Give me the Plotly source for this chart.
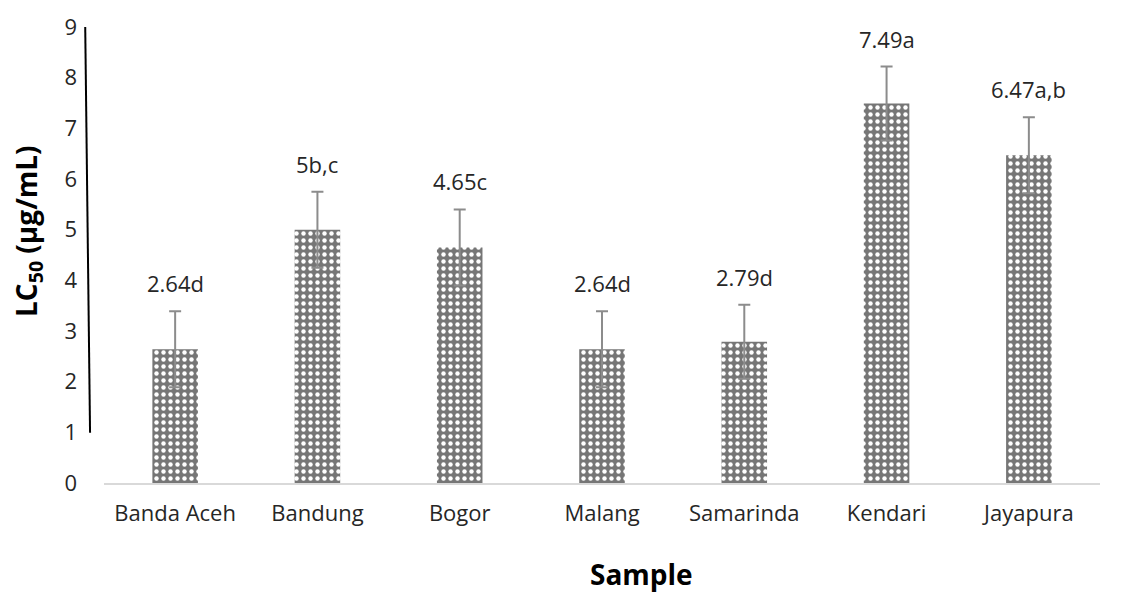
import plotly.graph_objects as go

categories = ["Banda Aceh", "Bandung", "Bogor", "Malang", "Samarinda", "Kendari", "Jayapura"]
values = [2.64, 5.0, 4.65, 2.64, 2.79, 7.49, 6.47]
errors = [0.75, 0.75, 0.75, 0.75, 0.73, 0.73, 0.75]
labels = ["2.64d", "5b,c", "4.65c", "2.64d", "2.79d", "7.49a", "6.47a,b"]
y_ticks = [0, 1, 2, 3, 4, 5, 6, 7, 8, 9]

FONT = "'Open Sans', 'Noto Sans', sans-serif"

fig = go.Figure()
fig.add_trace(go.Bar(
    x=categories, y=values,
    marker=dict(
        color="#7a7a7a",
        line=dict(width=0),
        pattern=dict(shape=".", fgcolor="white", bgcolor="#767676",
                     size=7, solidity=0.32, fillmode="replace"),
    ),
    error_y=dict(type="data", array=errors, visible=True,
                 color="#8c8c8c", thickness=2, width=6),
    width=0.32,
    hoverinfo="skip",
))

for c, v, e, t in zip(categories, values, errors, labels):
    fig.add_annotation(x=c, y=v + e, text=t, showarrow=False,
                       yanchor="bottom", yshift=11,
                       font=dict(family=FONT, size=22, color="#262626"))

# axis titles
fig.add_annotation(xref="paper", yref="paper", x=(641 - 104) / 996, y=(483 - 574) / 456,
                   text="<b>Sample</b>", showarrow=False, xanchor="center", yanchor="middle",
                   font=dict(family=FONT, size=28, color="black"))
fig.add_annotation(xref="paper", yref="paper", x=(28 - 104) / 996, y=(483 - 231) / 456,
                   text="<b>LC<sub>50</sub> (µg/mL)</b>", showarrow=False, textangle=-90,
                   xanchor="center", yanchor="middle",
                   font=dict(family=FONT, size=28, color="black"))

# hand-drawn vertical line at the left of the plot
fig.add_shape(type="line", xref="paper", yref="y",
              x0=-0.019, y0=9.23, x1=-0.014, y1=0.99,
              line=dict(color="black", width=2))

fig.update_layout(
    width=1132, height=596,
    margin=dict(l=96, r=40, t=19, b=121),
    plot_bgcolor="white", paper_bgcolor="white",
    showlegend=False,
    font=dict(family=FONT, color="#262626"),
    xaxis=dict(
        showgrid=False, showline=True, linecolor="#d9d9d9", linewidth=2,
        ticks="", automargin=False, ticklabelstandoff=10,
        tickfont=dict(size=22, color="#262626"),
    ),
    yaxis=dict(
        range=[0, 9], tickvals=y_ticks, showgrid=False, showline=False,
        zeroline=False, ticks="", ticklabelstandoff=26, automargin=False,
        tickfont=dict(size=22, color="#262626"),
    ),
)

fig.write_html("out.html")
